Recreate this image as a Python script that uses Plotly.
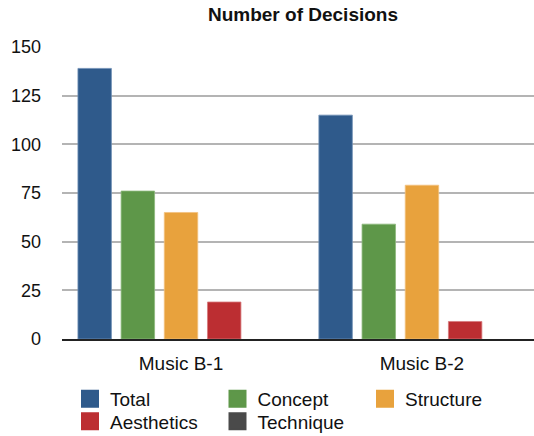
import plotly.graph_objects as go

categories = ["Music B-1", "Music B-2"]
series_names = ["Total", "Concept", "Structure", "Aesthetics", "Technique"]
total = [139, 115]
concept = [76, 59]
structure = [65, 79]
aesthetics = [19, 9]
technique = [0, 0]
y_ticks = [0, 25, 50, 75, 100, 125, 150]

colors = ["#2F5A8B", "#5E9749", "#E8A23D", "#BC2E32", "#4A4A4A"]
edge = ["#6F8FB5", "#8DB97C", "#F2C27E", "#D77A7C", "#7A7A7A"]
values = [total, concept, structure, aesthetics, technique]
legend_rows = ["legend", "legend", "legend", "legend2", "legend2"]

FONT = "Liberation Sans, Arial, Helvetica, sans-serif"

fig = go.Figure()
for name, vals, c, e in zip(series_names, values, colors, edge):
    lw = 0.8 if max(vals) > 0 else 0
    fig.add_trace(go.Bar(
        x=categories, y=vals, name=name, showlegend=False,
        marker=dict(color=c, line=dict(color=e, width=lw)),
    ))
# legend proxies (square swatches)
for name, c, lg in zip(series_names, colors, legend_rows):
    fig.add_trace(go.Scatter(
        x=[None], y=[None], mode="markers", name=name, legend=lg,
        marker=dict(symbol="square", size=16, color=c,
                    line=dict(width=2, color=c)),
    ))

leg_common = dict(orientation="h", xanchor="left", xref="container",
                  yanchor="middle", yref="container",
                  entrywidth=102.5, entrywidthmode="pixels",
                  font=dict(family=FONT, size=19, color="#111111"),
                  itemsizing="trace", bgcolor="rgba(0,0,0,0)")

fig.update_layout(
    width=534, height=436,
    margin=dict(l=62, r=0, t=47, b=97),
    paper_bgcolor="white", plot_bgcolor="white",
    barmode="group", bargap=0.104, bargroupgap=0.225,
    font=dict(family=FONT, size=18, color="#111111"),
    title=dict(text="<b>Number of Decisions</b>", x=303 / 534, xref="container",
               xanchor="center", y=1 - 14.5 / 436, yanchor="middle",
               font=dict(family=FONT, size=19, color="#111111")),
    showlegend=True,
    legend=dict(x=70 / 534, y=1 - 399 / 436, **leg_common),
    legend2=dict(x=70 / 534, y=1 - 421.5 / 436, **leg_common),
    xaxis=dict(type="category", range=[-0.494, 1.465], showgrid=False,
               showline=True, linecolor="#222222", linewidth=1.5,
               ticks="", ticklabelstandoff=6,
               tickfont=dict(family=FONT, size=19, color="#111111"),
               fixedrange=True),
    yaxis=dict(range=[0, 150], tickvals=y_ticks, showgrid=True,
               gridcolor="#B4B4B4", gridwidth=1.5, zeroline=False,
               showline=False, ticks="", ticklabelstandoff=20,
               tickfont=dict(family=FONT, size=18, color="#111111")),
)

fig.write_html("out.html")
